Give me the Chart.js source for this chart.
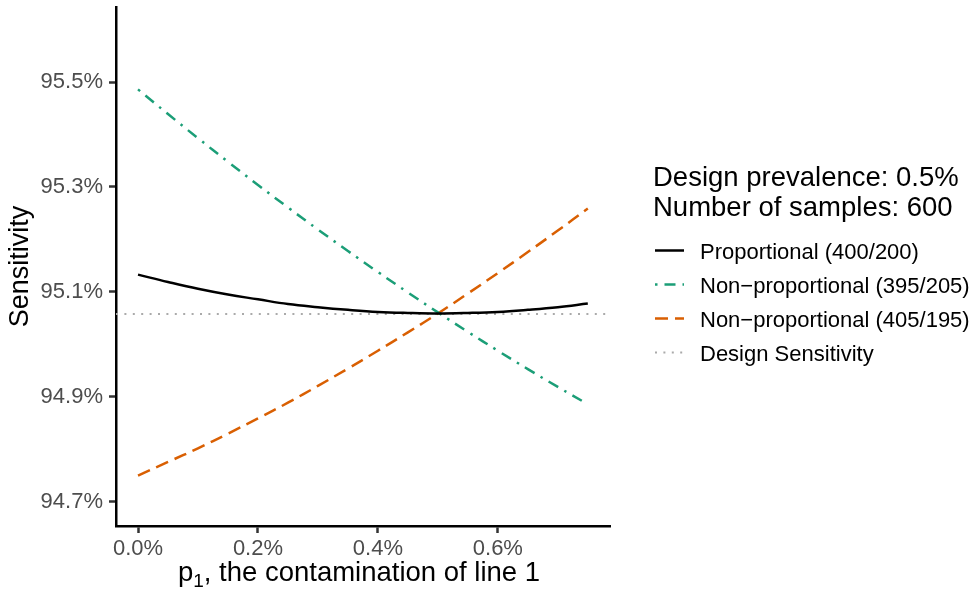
<!DOCTYPE html>
<html>
<head>
<meta charset="utf-8">
<script src="https://cdn.jsdelivr.net/npm/chart.js@4.4.1/dist/chart.umd.min.js"></script>
<style>
  html, body { margin: 0; padding: 0; background: #fff; }
  #wrap { width: 976px; height: 596px; position: relative; }
</style>
</head>
<body>
<div id="wrap"><canvas id="sensChart"></canvas></div>
<script>
// p1 = contamination of line 1 (in %)
const p1Values = [0, 0.05, 0.10, 0.15, 0.20, 0.25, 0.30, 0.35, 0.40, 0.45, 0.50, 0.55, 0.60, 0.65, 0.70, 0.75];

// sensitivity (in %)
const proportional = [95.133, 95.119, 95.106, 95.095, 95.086, 95.077, 95.071, 95.066, 95.062, 95.060, 95.059, 95.060, 95.062, 95.066, 95.071, 95.078];
const nonProp395 = [95.486, 95.439, 95.393, 95.348, 95.304, 95.261, 95.219, 95.178, 95.138, 95.099, 95.061, 95.024, 94.988, 94.953, 94.919, 94.886];
const nonProp405 = [94.750, 94.776, 94.802, 94.830, 94.859, 94.889, 94.921, 94.954, 94.988, 95.023, 95.059, 95.097, 95.136, 95.176, 95.217, 95.259];
const designSensitivity = 95.058;

const seriesLabels = ['Proportional (400/200)', 'Non\u2212proportional (395/205)', 'Non\u2212proportional (405/195)', 'Design Sensitivity'];
const legendTitle = ['Design prevalence: 0.5%', 'Number of samples: 600'];

const xTicks = [0, 0.2, 0.4, 0.6];
const yTicks = [94.7, 94.9, 95.1, 95.3, 95.5];
const X_MIN = -0.0367, X_MAX = 0.787;
const Y_MIN = 94.654, Y_MAX = 95.643;

const FONT = "'Liberation Sans', Arial, Helvetica, sans-serif";
Chart.defaults.font.family = FONT;

const toPoints = (arr) => p1Values.map((x, i) => ({ x: x, y: arr[i] }));

// no extra padding from tick labels, the plot box is fixed
const noPad = (s) => { s.paddingTop = 0; s.paddingBottom = 0; s.paddingLeft = 0; s.paddingRight = 0; };

// x title (with subscript) + legend on the right
const extrasPlugin = {
    id: 'extras',
    afterDraw(chart) {
        const ctx = chart.ctx;
        const area = chart.chartArea;
        ctx.save();
        ctx.fillStyle = '#000';
        ctx.textBaseline = 'alphabetic';

        // x axis title: p₁, the contamination of line 1
        const big = '27.5px ' + FONT, small = '19px ' + FONT;
        const rest = ', the contamination of line 1';
        ctx.font = big;
        const wP = ctx.measureText('p').width, wRest = ctx.measureText(rest).width;
        ctx.font = small;
        const w1 = ctx.measureText('1').width;
        let x = (area.left + area.right) / 2 - (wP + w1 + wRest) / 2 - 4;
        const base = 581;
        ctx.font = big; ctx.fillText('p', x, base); x += wP;
        ctx.font = small; ctx.fillText('1', x, base + 6); x += w1;
        ctx.font = big; ctx.fillText(rest, x, base);

        // legend title
        ctx.font = big;
        ctx.fillText(legendTitle[0], 653, 186);
        ctx.fillText(legendTitle[1], 653, 216);

        // legend keys
        ctx.font = '22px ' + FONT;
        chart.data.datasets.forEach((ds, i) => {
            const y = 250.5 + 34 * i;
            ctx.beginPath();
            ctx.strokeStyle = ds.borderColor;
            ctx.lineWidth = ds.borderWidth;
            ctx.setLineDash(ds.borderDash || []);
            ctx.moveTo(655, y);
            ctx.lineTo(684, y);
            ctx.stroke();
            ctx.setLineDash([]);
            ctx.fillText(ds.label, 700, y + 8);
        });
        ctx.restore();
    }
};

new Chart(document.getElementById('sensChart'), {
    type: 'line',
    data: {
        datasets: [
            {
                label: seriesLabels[0],
                data: toPoints(proportional),
                borderColor: '#000000',
                borderWidth: 2.5,
                pointRadius: 0,
                tension: 0.4
            },
            {
                label: seriesLabels[1],
                data: toPoints(nonProp395),
                borderColor: '#1b9e77',
                borderWidth: 2.5,
                borderDash: [2.5, 7, 11, 7],
                pointRadius: 0,
                tension: 0.4
            },
            {
                label: seriesLabels[2],
                data: toPoints(nonProp405),
                borderColor: '#d95f02',
                borderWidth: 2.5,
                borderDash: [13, 7],
                pointRadius: 0,
                tension: 0.4
            },
            {
                label: seriesLabels[3],
                data: [{ x: X_MIN, y: designSensitivity }, { x: X_MAX, y: designSensitivity }],
                borderColor: '#aaaaaa',
                borderWidth: 2,
                borderDash: [2, 6.4],
                pointRadius: 0
            }
        ]
    },
    options: {
        responsive: true,
        maintainAspectRatio: false,
        animation: false,
        layout: { padding: { top: 7, right: 366, left: 0, bottom: 0 } },
        plugins: {
            legend: { display: false },
            tooltip: { enabled: false }
        },
        scales: {
            x: {
                type: 'linear',
                min: X_MIN,
                max: X_MAX,
                afterBuildTicks: (s) => { s.ticks = xTicks.map(v => ({ value: v })); },
                afterFit: (s) => { s.height = 70; noPad(s); },
                ticks: {
                    color: '#4d4d4d',
                    font: { size: 22 },
                    padding: 3,
                    maxRotation: 0,
                    callback: (v) => v.toFixed(1) + '%'
                },
                grid: { drawOnChartArea: false, drawTicks: true, tickLength: 7, tickColor: '#333', tickWidth: 2.5 },
                border: { display: true, color: '#000', width: 2.5 }
            },
            y: {
                type: 'linear',
                min: Y_MIN,
                max: Y_MAX,
                afterBuildTicks: (s) => { s.ticks = yTicks.map(v => ({ value: v })); },
                afterFit: (s) => { s.width = 116; noPad(s); },
                ticks: {
                    color: '#4d4d4d',
                    font: { size: 22 },
                    padding: 6,
                    callback: (v) => v.toFixed(1) + '%'
                },
                title: {
                    display: true,
                    text: 'Sensitivity',
                    color: '#000',
                    font: { size: 27 },
                    padding: { top: 4, bottom: 0 }
                },
                grid: { drawOnChartArea: false, drawTicks: true, tickLength: 7, tickColor: '#333', tickWidth: 2.5 },
                border: { display: true, color: '#000', width: 2.5 }
            }
        }
    },
    plugins: [extrasPlugin]
});
</script>
</body>
</html>
